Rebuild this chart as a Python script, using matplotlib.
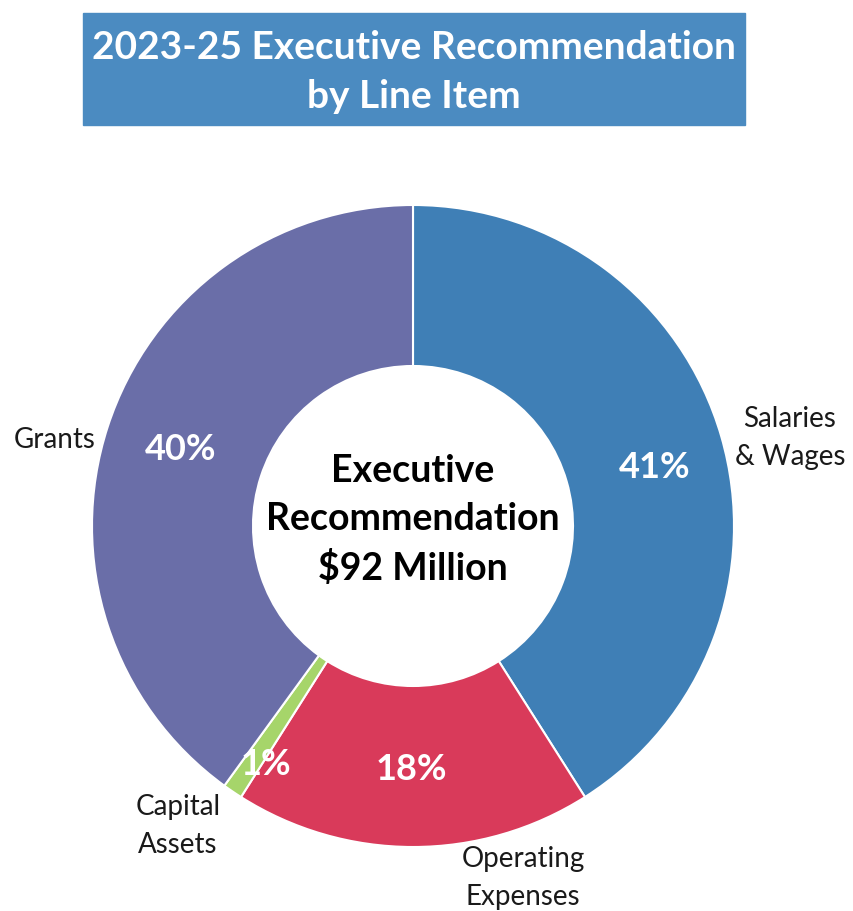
import matplotlib.pyplot as plt
from matplotlib.patches import Rectangle

# Data
categories = ['Salaries\n& Wages', 'Operating\nExpenses', 'Capital\nAssets', 'Grants']
shares = [41, 18, 1, 40]
colors = ['#3f7fb6', '#d93a5a', '#a6d56a', '#6a6ea8']

# label placement in pixel coords (x, y from top)
cat_pos = [(790, 438), (523, 878), (178, 826), (55, 440)]
pct_pos = [(655, 468), (411, 770), (266, 765), (181, 450)]

W, H = 854, 911
fig = plt.figure(figsize=(W / 100, H / 100), dpi=100)
ax = fig.add_axes([0, 0, 1, 1])

plt.rcParams['font.family'] = ['Lato', 'DejaVu Sans']

# Donut
ax.pie(shares, colors=colors, startangle=90, counterclock=False,
       center=(413, H - 526), radius=321, frame=True,
       wedgeprops=dict(width=161, edgecolor='white', linewidth=1.5))
ax.set_xlim(0, W)
ax.set_ylim(0, H)
ax.set_aspect('equal')
ax.axis('off')

# Title box
ax.add_patch(Rectangle((83, H - 125), 662, 112, color='#4b8bc1', zorder=3))
ax.text(414, H - 72, '2023-25 Executive Recommendation\nby Line Item',
        ha='center', va='center', color='white', fontsize=28, fontweight='bold',
        linespacing=1.45, zorder=4)

# Center text
ax.text(413, H - 520, 'Executive\nRecommendation\n$92 Million', ha='center', va='center',
        fontsize=27, fontweight='bold', color='black', linespacing=1.5)

for name, (x, y) in zip(categories, cat_pos):
    ax.text(x, H - y, name, ha='center', va='center', fontsize=20,
            color='#1a1a1a', linespacing=1.55)

for v, (x, y) in zip(shares, pct_pos):
    ax.text(x, H - y, f'{v}%', ha='center', va='center', fontsize=26,
            fontweight='bold', color='white')

fig.savefig('out.png', dpi=100)
